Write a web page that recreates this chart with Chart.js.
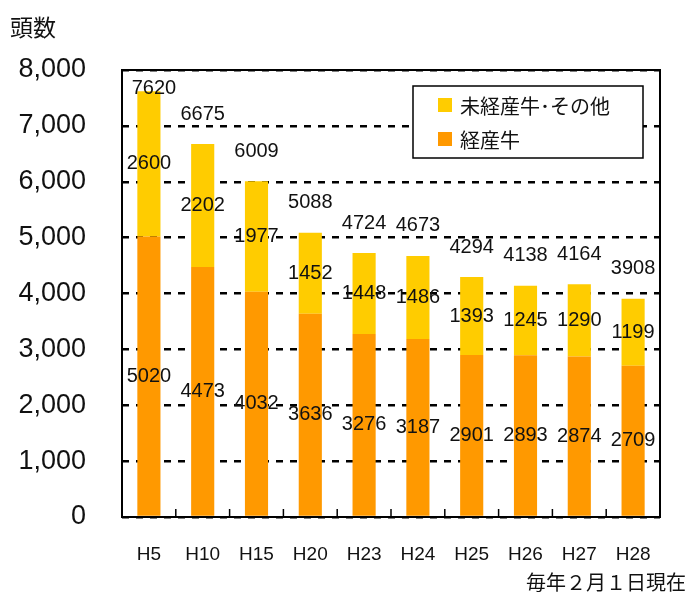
<!DOCTYPE html>
<html>
<head>
<meta charset="utf-8">
<script src="https://cdn.jsdelivr.net/npm/chart.js@4.4.1/dist/chart.umd.min.js"></script>
<style>
  html, body { margin: 0; padding: 0; background: #fff; }
  #wrap { width: 693px; height: 592px; position: relative; }
</style>
</head>
<body>
<div id="wrap"><canvas id="chart" width="693" height="592"></canvas></div>
<script>
// data
const years = ['H5', 'H10', 'H15', 'H20', 'H23', 'H24', 'H25', 'H26', 'H27', 'H28'];
const keisan = [5020, 4473, 4032, 3636, 3276, 3187, 2901, 2893, 2874, 2709];
const mikeisan = [2600, 2202, 1977, 1452, 1448, 1486, 1393, 1245, 1290, 1199];
const totals = [7620, 6675, 6009, 5088, 4724, 4673, 4294, 4138, 4164, 3908];
const yTicks = [0, 1000, 2000, 3000, 4000, 5000, 6000, 7000, 8000];

const YELLOW = '#FFCC00';
const ORANGE = '#FF9900';
const JP = '"Noto Sans CJK JP", sans-serif';
const SANS = '"Liberation Sans", Arial, sans-serif';

// labels, frame, ticks, legend, notes
const extras = {
    id: 'extras',
    afterDatasetsDraw(chart) {
        const ctx = chart.ctx;
        const area = chart.chartArea;
        const x = chart.scales.x;

        ctx.save();
        // frame
        ctx.strokeStyle = '#000';
        ctx.lineWidth = 2;
        ctx.strokeRect(area.left, area.top, area.right - area.left, area.bottom - area.top);

        // x ticks between categories
        ctx.lineWidth = 1.5;
        for (let i = 1; i < years.length; i++) {
            const bx = (x.getPixelForValue(i - 1) + x.getPixelForValue(i)) / 2;
            ctx.beginPath();
            ctx.moveTo(bx, area.bottom);
            ctx.lineTo(bx, area.bottom - 8);
            ctx.stroke();
        }

        // value labels
        ctx.fillStyle = '#111';
        ctx.font = '20px ' + SANS;
        ctx.textAlign = 'center';
        ctx.textBaseline = 'middle';
        const m0 = chart.getDatasetMeta(0).data;
        const m1 = chart.getDatasetMeta(1).data;
        m0.forEach((bar, i) => {
            ctx.fillText(String(keisan[i]), bar.x, (bar.y + bar.base) / 2);
        });
        m1.forEach((bar, i) => {
            ctx.fillText(String(mikeisan[i]), bar.x, (bar.y + bar.base) / 2);
            const ty = Math.max(bar.y - 30, area.top + 18);
            ctx.fillText(String(totals[i]), bar.x + (i === 0 ? 5 : 0), ty);
        });

        // legend box
        ctx.fillStyle = '#fff';
        ctx.fillRect(413, 86, 230, 72);
        ctx.strokeStyle = '#000';
        ctx.lineWidth = 1.5;
        ctx.strokeRect(413, 86, 230, 72);
        ctx.font = '20px ' + JP;
        ctx.textAlign = 'left';
        const items = [[YELLOW, '未経産牛･その他'], [ORANGE, '経産牛']];
        items.forEach((it, k) => {
            const cy = 105 + k * 34;
            ctx.fillStyle = it[0];
            ctx.fillRect(438, cy - 7, 14, 14);
            ctx.fillStyle = '#111';
            ctx.fillText(it[1], 460, cy + 1);
        });

        // titles
        ctx.font = '23px ' + JP;
        ctx.textAlign = 'left';
        ctx.fillText('頭数', 10, 27);
        ctx.font = '20px ' + JP;
        ctx.fillText('毎年２月１日現在', 526, 582);
        ctx.restore();
    }
};

new Chart(document.getElementById('chart'), {
    type: 'bar',
    data: {
        labels: years,
        datasets: [
            { label: '経産牛', data: keisan, backgroundColor: ORANGE },
            { label: '未経産牛･その他', data: mikeisan, backgroundColor: YELLOW }
        ]
    },
    options: {
        responsive: false,
        animation: false,
        layout: { padding: { top: 70, right: 33, left: 0, bottom: 0 } },
        datasets: { bar: { barPercentage: 0.43, categoryPercentage: 1 } },
        plugins: { legend: { display: false }, tooltip: { enabled: false } },
        scales: {
            x: {
                stacked: true,
                grid: { display: false, drawTicks: false },
                border: { display: false },
                ticks: { color: '#111', font: { size: 19, family: SANS }, padding: 26, maxRotation: 0 },
                afterFit(s) { s.height = 75; }
            },
            y: {
                stacked: true,
                min: 0,
                max: 8000,
                afterBuildTicks(s) { s.ticks = yTicks.map(v => ({ value: v })); },
                grid: { color: '#000', lineWidth: 2.5, drawTicks: false },
                border: { display: false, dash: [7, 7] },
                ticks: {
                    color: '#111',
                    font: { size: 27, family: SANS },
                    padding: 36,
                    callback: v => v.toLocaleString('en-US')
                },
                afterFit(s) { s.width = 122; }
            }
        }
    },
    plugins: [extras]
});
</script>
</body>
</html>
